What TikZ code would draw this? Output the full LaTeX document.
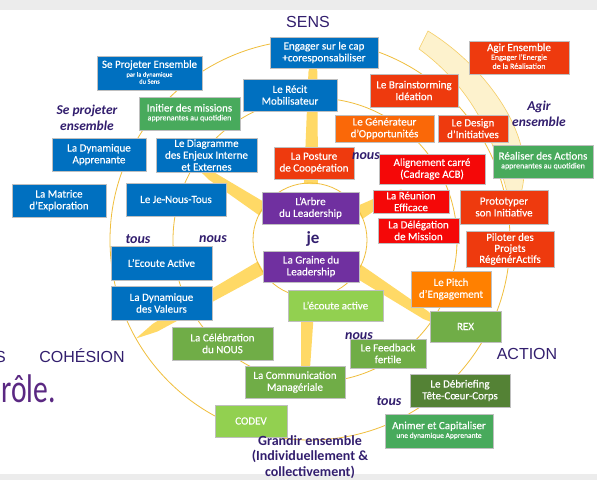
\documentclass[tikz,border=0pt]{standalone}
\usepackage{fontspec}
\usepackage{graphicx}
\setmainfont{Carlito}
\newfontfamily\boxfont{Carlito}[FakeBold=0.35]
\newfontfamily\arialf{Liberation Sans}
\usetikzlibrary{calc}
\definecolor{cblue}{RGB}{0,112,192}
\definecolor{cgreen}{RGB}{72,170,92}
\definecolor{colive}{RGB}{112,173,71}
\definecolor{clight}{RGB}{146,208,80}
\definecolor{cdark}{RGB}{84,130,53}
\definecolor{cpurple}{RGB}{112,48,160}
\definecolor{cored}{RGB}{238,58,14}
\definecolor{cred}{RGB}{245,8,8}
\definecolor{corange}{RGB}{250,104,8}
\definecolor{cpitch}{RGB}{255,128,0}
\definecolor{cink}{RGB}{50,30,110}
\definecolor{cring}{RGB}{240,190,60}
\definecolor{cspoke}{RGB}{255,217,102}
\definecolor{cband}{RGB}{253,242,205}
\definecolor{cbandline}{RGB}{245,205,100}
\definecolor{crole}{RGB}{90,40,130}
\definecolor{cstrip}{RGB}{236,236,236}
\newcommand\subl[3]{{\fontsize{#1}{#2}\selectfont\begin{tabular}[t]{@{}c@{}}#3\end{tabular}}}
\tikzset{
  bx/.style={draw=black!25, line width=0.5pt, text=white, align=center, inner sep=0pt,
    font=\boxfont\fontsize{11}{11.8}\selectfont},
  sz/.style 2 args={minimum width=#1pt, minimum height=#2pt},
  lab/.style={text=cink, font=\fontsize{14}{15.5}\selectfont\bfseries\itshape, align=center, inner sep=0pt},
  big/.style={text=cink, font=\arialf\fontsize{16}{18}\selectfont, inner sep=0pt, anchor=base},
  ring/.style={draw=cring, line width=0.8pt},
}
\begin{document}
\begin{tikzpicture}[x=1pt,y=-1pt]
\useasboundingbox (0,0) rectangle (597,480);
\fill[white] (0,0) rectangle (597,480);
\fill[cstrip] (0,0) rectangle (597,10);
\fill[cstrip] (0,474) rectangle (597,480);

% crescent band on the right
\filldraw[fill=cband, draw=cbandline, line width=0.6pt]
  (428,31) .. controls (472,58) and (512,105) .. (522,150)
  .. controls (528,180) and (520,200) .. (512,215)
  .. controls (508,195) and (503,175) .. (496,155)
  .. controls (482,112) and (455,75) .. (419,49) -- cycle;

% spokes
\foreach \ang/\len in {89/190, 147/140, 209.5/200, 268/150, 327/160, 29/105} {
  \begin{scope}[shift={(310,240)}, rotate=\ang]
    \fill[cspoke] (56,7) -- (\len-22,4.5) -- (\len,0) -- (\len-22,-4.5) -- (56,-7) -- cycle;
  \end{scope}
}

% rings
\coordinate (ctr) at (310,240);
\coordinate (ctrm) at (315,240);
\draw[ring] (ctr) circle[radius=57];
\draw[ring] (ctrm) circle[radius=142];
\draw[ring] (ctr) circle[radius=200];

% boxes
\node[bx, fill=cblue, sz={108}{31}] (engager) at (324,52.5) {Engager sur le cap\\+coresponsabiliser};
\node[bx, fill=cblue, sz={105}{34}] (seproj) at (149.5,73) {Se Projeter Ensemble\\[-3pt]\subl{6.5}{7}{par la dynamique\\du Sens}};
\node[bx, fill=cblue, sz={94}{32}] (recit) at (290,95) {Le Récit\\Mobilisateur};
\node[bx, fill=cblue, sz={94}{33}] (dynapp) at (99,154.5) {La Dynamique\\Apprenante};
\node[bx, fill=cblue, sz={101}{34}] (diag) at (206.5,155) {Le Diagramme\\des Enjeux Interne\\et Externes};
\node[bx, fill=cblue, sz={94}{33}] (matrice) at (59,200.5) {La Matrice\\d’Exploration};
\node[bx, fill=cblue, sz={100}{33}] (jenous) at (176,199.5) {Le Je-Nous-Tous};
\node[bx, fill=cblue, sz={101}{34}] (ecoutea) at (161.5,263) {L’Ecoute Active};
\node[bx, fill=cblue, sz={101}{34}] (dynval) at (161.5,303) {La Dynamique\\des Valeurs};

\node[bx, fill=cgreen, sz={101}{33}] (initier) at (189.5,113.5) {Initier des missions\\[-3pt]\subl{8}{9}{apprenantes au quotidien}};
\node[bx, fill=cgreen, sz={100}{33}] (realiser) at (543,161.5) {Réaliser des Actions\\[-3pt]\subl{8}{9}{apprenantes au quotidien}};
\node[bx, fill=cgreen, sz={108}{34}] (animer) at (439,431) {Animer et Capitaliser\\[-3pt]\subl{7.5}{8.5}{une dynamique Apprenante}};

\node[bx, fill=colive, sz={101}{33}] (celeb) at (222.5,343.5) {La Célébration\\du NOUS};
\node[bx, fill=colive, sz={100}{32}] (comm) at (295,382) {La Communication\\Managériale};
\node[bx, fill=colive, sz={71}{31}] (rex) at (465.5,326.5) {REX};
\node[bx, fill=colive, sz={76}{29}] (feedback) at (388,353.5) {Le Feedback\\fertile};
\node[bx, fill=clight, sz={95}{31}] (ecoute) at (335.5,305.5) {L’écoute active};
\node[bx, fill=clight, sz={72}{32}] (codev) at (251,421) {CODEV};
\node[bx, fill=cdark, sz={100}{33}] (debrief) at (460,390.5) {Le Débriefing\\Tête-Cœur-Corps};

\node[bx, fill=cpurple, sz={97}{32}] (arbre) at (310.5,208) {L’Arbre\\du Leadership};
\node[bx, fill=cpurple, sz={96}{31}] (graine) at (311,266.5) {La Graine du\\Leadership};

\node[bx, fill=cored, sz={100}{33}] (agir) at (519,57.5) {Agir Ensemble\\[-3pt]\subl{8}{9}{Engager l’Energie\\de la Réalisation}};
\node[bx, fill=cored, sz={88}{33}] (brain) at (414,90.5) {Le Brainstorming\\Idéation};
\node[bx, fill=corange, sz={99}{27}] (gener) at (384.5,128.5) {Le Générateur\\d’Opportunités};
\node[bx, fill=cored, sz={70}{27}] (design) at (473,128.5) {Le Design\\d’Initiatives};
\node[bx, fill=cored, sz={80}{32}] (posture) at (314,163) {La Posture\\de Coopération};
\node[bx, fill=cred, sz={106}{30}] (align) at (432,169) {Alignement carré\\(Cadrage ACB)};
\node[bx, fill=cred, sz={76}{23}] (reunion) at (411,201.5) {La Réunion\\Efficace};
\node[bx, fill=cred, sz={81}{25}] (deleg) at (418.5,230.5) {La Délégation\\de Mission};
\node[bx, fill=cored, sz={88}{34}] (proto) at (504,207) {Prototyper\\son Initiative};
\node[bx, fill=cored, sz={88}{36}, font=\boxfont\fontsize{11}{11}\selectfont] (piloter) at (510,249) {Piloter des\\Projets\\RégénérActifs};
\node[bx, fill=cpitch, sz={80}{36}] (pitch) at (451,289) {Le Pitch\\d’Engagement};

% labels
\node[lab, font=\fontsize{13.5}{15.5}\selectfont\bfseries\itshape] (lsp) at (87,118) {Se projeter\\ensemble};
\node[lab, font=\fontsize{13.5}{15.5}\selectfont\bfseries\itshape] (lag) at (539,114) {Agir\\ensemble};
\node[lab] (tous1) at (138,239) {tous};
\node[lab] (nous1) at (213,239) {nous};
\node[lab] (nous2) at (366,156) {nous};
\node[lab] (nous3) at (359,336) {nous};
\node[lab] (tous2) at (389,401) {tous};
\node[text=cink, font=\fontsize{17}{17}\selectfont\bfseries, inner sep=0pt] (je) at (313,239) {je};
\node[text=cink, font=\fontsize{14}{15.5}\selectfont\bfseries, align=center, inner sep=0pt] (grandir) at (310,457) {Grandir ensemble\\(Individuellement \&\\collectivement)};

\node[big] (sens) at (308,27) {SENS};
\node[big] (action) at (527,359) {ACTION};
\node[big] (cohesion) at (82,362) {COHÉSION};
\node[big, anchor=base east] (scut) at (6,362) {S};
\node[text=crole, font=\fontsize{40}{40}\selectfont, anchor=base west, inner sep=0pt] (role) at (1,402) {\scalebox{0.74}[1]{rôle.}};
\end{tikzpicture}
\end{document}
